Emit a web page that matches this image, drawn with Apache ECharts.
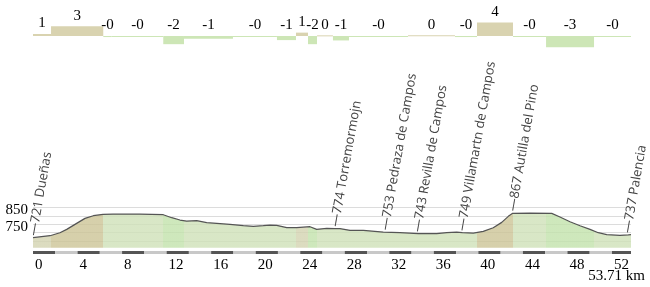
<!DOCTYPE html>
<html><head><meta charset="utf-8">
<script src="https://cdn.jsdelivr.net/npm/echarts@6/dist/echarts.min.js"></script>
<style>html,body{margin:0;padding:0;background:#fff}#c{width:650px;height:287px}</style>
</head><body><div id="c"></div>
<script>
const totalKm = 53.71;
// elevation profile (km, metres)
const profileKm = [0, 1.53, 2.42, 3.03, 3.92, 4.67, 5.42, 6.29, 7.19, 9.6, 11.7, 12.46, 13.2, 13.8, 14.7, 15.6, 16.5, 17.69, 18.89, 19.79, 20.68, 21.29, 21.89, 22.79, 23.68, 24.88, 25.48, 26.38, 27.12, 27.57, 28.47, 29.67, 31.46, 32.96, 34.61, 36.26, 37.16, 38.05, 38.56, 39.55, 40.44, 41.34, 42.1, 42.69, 43.08, 44.64, 46.59, 47.33, 48.23, 49.13, 50.03, 50.77, 51.53, 52.72, 53.47, 53.71];
const profileElev = [721, 732, 750, 770, 806, 836, 852, 860, 862, 862, 858, 840, 826, 820, 822, 810, 806, 800, 792, 788, 792, 796, 794, 780, 780, 786, 770, 776, 774, 775, 764, 764, 754, 750, 744, 745, 750, 754, 750, 748, 758, 780, 812, 848, 866, 868, 866, 844, 816, 792, 770, 750, 738, 734, 737, 739];
// named places
const placeNames = ['Dueñas', 'Torremormojn', 'Pedraza de Campos', 'Revilla de Campos', 'Villamartn de Campos', 'Autilla del Pino', 'Palencia'];
const placeKm = [0, 27.12, 31.6, 34.5, 38.5, 43.05, 53.35];
const placeElev = [721, 774, 753, 743, 749, 867, 737];
// gradient segments (% grade)
const segStart = [0, 1.62, 6.31, 7.07, 11.7, 13.56, 17.96, 21.91, 23.62, 24.7, 25.51, 26.94, 28.38, 33.68, 37.9, 39.88, 43.11, 46.08, 50.39];
const segEnd = [1.62, 6.31, 7.07, 11.7, 13.56, 17.96, 21.91, 23.62, 24.7, 25.51, 26.94, 28.38, 33.68, 37.9, 39.88, 43.11, 46.08, 50.39, 53.71];
const segGrade = [0.6, 2.9, -0.3, -0.2, -2.4, -0.8, -0.2, -1.2, 1.0, -2.4, 0.2, -1.3, -0.3, 0.2, -0.3, 4.0, -0.2, -3.3, -0.2];
// axis ticks
const yLabelValues = [750, 850];
const xTickStep = 4;

function gradeLabel(g) {
  const r = Math.abs(Math.round(g));
  return (g < 0 ? '-' : '') + r;
}
function barColor(g) { return g >= 0 ? '#d9d3b0' : '#cde6b6'; }
function bandColor(g) {
  if (g >= 1.5) return '#ccc496';
  if (g >= 0.5) return '#d3d3b0';
  if (g > -1.5) return '#cfe1b8';
  return '#c2e2ab';
}

const scaleSegs = [];
for (let s = 0, i = 0; s < totalKm; s += 2, i++) scaleSegs.push([s, Math.min(s + 2, totalKm), i % 2]);

const serif = '"Liberation Serif", "Times New Roman", serif';
const chart = echarts.init(document.getElementById('c'), null, {renderer: 'canvas'});
chart.setOption({
  animation: false,
  grid: [
    {left: 33, right: 19, top: 0, height: 52},
    {left: 33, right: 19, top: 207.7, height: 41.67},
    {left: 33, right: 19, top: 251, height: 3}
  ],
  xAxis: [
    {gridIndex: 0, type: 'value', min: 0, max: totalKm, show: false},
    {gridIndex: 1, type: 'value', min: 0, max: totalKm, show: false},
    {gridIndex: 2, type: 'value', min: 0, max: totalKm, interval: xTickStep,
     axisLine: {show: false}, axisTick: {show: false}, splitLine: {show: false},
     axisLabel: {margin: 4, align: 'left', padding: [0, 0, 0, 2], fontFamily: serif, fontSize: 15, color: '#000',
       formatter: v => (Math.abs(v % xTickStep) < 1e-6 ? String(v) : '')}}
  ],
  yAxis: [
    {gridIndex: 0, type: 'value', min: -4.7, max: 10.6, show: false},
    {gridIndex: 1, type: 'value', min: 650, max: 900, interval: 50,
     axisLine: {show: false}, axisTick: {show: false},
     splitLine: {show: true, showMinLine: false, lineStyle: {color: '#dcdcdc', width: 1}},
     axisLabel: {margin: 5, verticalAlign: 'bottom', lineHeight: 11, fontFamily: serif, fontSize: 15, color: '#000',
       formatter: v => (yLabelValues.indexOf(v) >= 0 ? String(v) : '')}},
    {gridIndex: 2, type: 'value', min: 0, max: 1, show: false}
  ],
  visualMap: {
    show: false, type: 'piecewise', dimension: 0, seriesIndex: 1,
    pieces: segStart.map((s, i) => (i === segStart.length - 1
      ? {gte: s, lte: segEnd[i], color: bandColor(segGrade[i])}
      : {gte: s, lt: segEnd[i], color: bandColor(segGrade[i])}))
  },
  series: [
    {
      type: 'custom', xAxisIndex: 0, yAxisIndex: 0,
      data: segStart.map((s, i) => [s, segEnd[i], segGrade[i]]),
      renderItem(params, api) {
        const s = api.value(0), e = api.value(1), g = api.value(2);
        const p0 = api.coord([s, 0]);
        const p1 = api.coord([e, g]);
        const x = p0[0], w = p1[0] - p0[0];
        const top = Math.min(p0[1], p1[1]);
        const h = Math.max(Math.abs(p1[1] - p0[1]), 1);
        return {type: 'group', children: [
          {type: 'rect', shape: {x: x, y: top, width: w, height: h}, style: {fill: barColor(g)}},
          {type: 'text', x: x + w / 2, y: top - 3, style: {text: gradeLabel(g), align: 'center', verticalAlign: 'bottom',
            fontFamily: serif, fontSize: 15, fill: '#000'}}
        ]};
      }
    },
    {
      type: 'line', xAxisIndex: 1, yAxisIndex: 1, showSymbol: false, symbol: 'none',
      data: profileKm.map((k, i) => [k, profileElev[i]]),
      lineStyle: {width: 0}, areaStyle: {opacity: 0.8, origin: 660}, z: 2
    },
    {
      type: 'line', xAxisIndex: 1, yAxisIndex: 1, showSymbol: false, symbol: 'none',
      data: profileKm.map((k, i) => [k, profileElev[i]]),
      lineStyle: {width: 1.2, color: '#555'}, z: 3
    },
    {
      type: 'custom', xAxisIndex: 1, yAxisIndex: 1, clip: false, z: 4,
      data: placeKm.map((k, i) => [k, placeElev[i], i]),
      renderItem(params, api) {
        const p = api.coord([api.value(0), api.value(1)]);
        const i = api.value(2);
        return {type: 'text', x: p[0], y: p[1] - 2, rotation: 80 * Math.PI / 180,
          style: {text: '—' + placeElev[i] + ' ' + placeNames[i], align: 'left', verticalAlign: 'middle',
            fontFamily: '"Open Sans", sans-serif', fontSize: 13, fill: '#444'}};
      }
    },
    {
      type: 'custom', xAxisIndex: 2, yAxisIndex: 2,
      data: scaleSegs,
      renderItem(params, api) {
        const p0 = api.coord([api.value(0), 1]);
        const p1 = api.coord([api.value(1), 0]);
        return {type: 'rect', shape: {x: p0[0], y: p0[1], width: p1[0] - p0[0], height: p1[1] - p0[1]},
          style: {fill: api.value(2) === 0 ? '#555' : '#c8c8c8'}};
      }
    }
  ],
  graphic: [
    {type: 'text', right: 5, top: 269, style: {text: totalKm + ' km', fontFamily: serif, fontSize: 15, fill: '#000'}}
  ]
});
</script></body></html>
